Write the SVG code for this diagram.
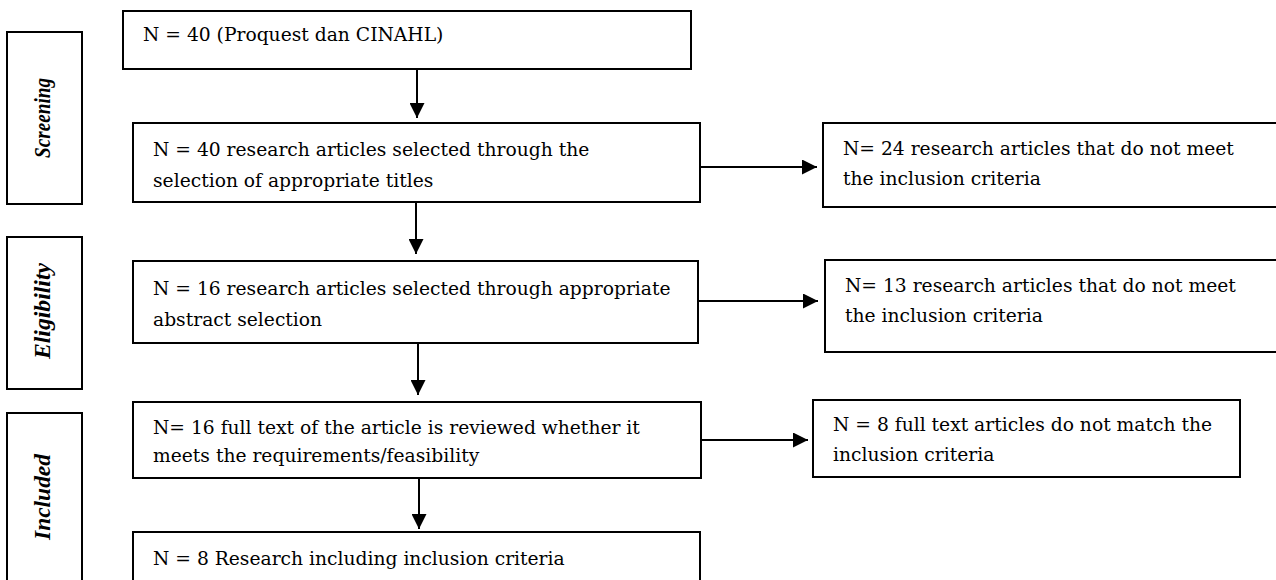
<svg xmlns="http://www.w3.org/2000/svg" width="1276" height="580" viewBox="0 0 1276 580">
<defs>
<style>
.box{fill:#fff;stroke:#000;stroke-width:2}
.t{font-family:"DejaVu Serif","Liberation Serif",serif;font-size:18.7px;fill:#000}
.lab{font-family:"Liberation Serif","Times New Roman",serif;font-size:23px;font-weight:bold;font-style:italic;fill:#000}
.con{stroke:#000;stroke-width:2;fill:none;marker-end:url(#ah)}
</style>
<marker id="ah" markerUnits="userSpaceOnUse" markerWidth="15" markerHeight="15" refX="15" refY="7.5" orient="auto">
<path d="M0,0 L15,7.5 L0,15 z" fill="#000"/>
</marker>
</defs>
<rect width="1276" height="580" fill="#fff"/>
<g id="label-screening">
<rect class="box" x="7" y="32" width="75" height="172"/>
<text class="lab" transform="translate(50,118) rotate(-90)" text-anchor="middle" textLength="80" lengthAdjust="spacingAndGlyphs">Screening</text>
</g>
<g id="label-eligibility">
<rect class="box" x="7" y="237" width="75" height="152"/>
<text class="lab" transform="translate(50,311) rotate(-90)" text-anchor="middle" textLength="96" lengthAdjust="spacingAndGlyphs">Eligibility</text>
</g>
<g id="label-included">
<rect class="box" x="7" y="413" width="75" height="180"/>
<text class="lab" transform="translate(50,497) rotate(-90)" text-anchor="middle" textLength="86" lengthAdjust="spacingAndGlyphs">Included</text>
</g>
<g id="n1">
<rect class="box" x="123" y="11" width="568" height="58"/>
<text class="t" x="143" y="41">N = 40 (Proquest dan CINAHL)</text>
</g>
<g id="n2">
<rect class="box" x="133" y="123" width="567" height="79"/>
<text class="t" x="153" y="156">N = 40 research articles selected through the</text>
<text class="t" x="153" y="187">selection of appropriate titles</text>
</g>
<g id="r1">
<rect class="box" x="823" y="123" width="470" height="84"/>
<text class="t" x="843" y="155">N= 24 research articles that do not meet</text>
<text class="t" x="843" y="185">the inclusion criteria</text>
</g>
<g id="n3">
<rect class="box" x="133" y="261" width="565" height="82"/>
<text class="t" x="153" y="295">N = 16 research articles selected through appropriate</text>
<text class="t" x="153" y="326">abstract selection</text>
</g>
<g id="r2">
<rect class="box" x="825" y="260" width="470" height="92"/>
<text class="t" x="845" y="292">N= 13 research articles that do not meet</text>
<text class="t" x="845" y="322">the inclusion criteria</text>
</g>
<g id="n4">
<rect class="box" x="133" y="402" width="568" height="76"/>
<text class="t" x="153" y="434">N= 16 full text of the article is reviewed whether it</text>
<text class="t" x="153" y="462">meets the requirements/feasibility</text>
</g>
<g id="r3">
<rect class="box" x="813" y="400" width="427" height="77"/>
<text class="t" x="833" y="431">N = 8 full text articles do not match the</text>
<text class="t" x="833" y="461">inclusion criteria</text>
</g>
<g id="n5">
<rect class="box" x="133" y="532" width="567" height="60"/>
<text class="t" x="153" y="565">N = 8 Research including inclusion criteria</text>
</g>
<g id="connectors">
<line class="con" x1="417" y1="69" x2="417" y2="118"/>
<line class="con" x1="416" y1="202" x2="416" y2="254"/>
<line class="con" x1="418" y1="343" x2="418" y2="395"/>
<line class="con" x1="419" y1="478" x2="419" y2="529"/>
<line class="con" x1="700" y1="167" x2="817" y2="167"/>
<line class="con" x1="698" y1="301" x2="818" y2="301"/>
<line class="con" x1="701" y1="440" x2="808" y2="440"/>
</g>
</svg>
